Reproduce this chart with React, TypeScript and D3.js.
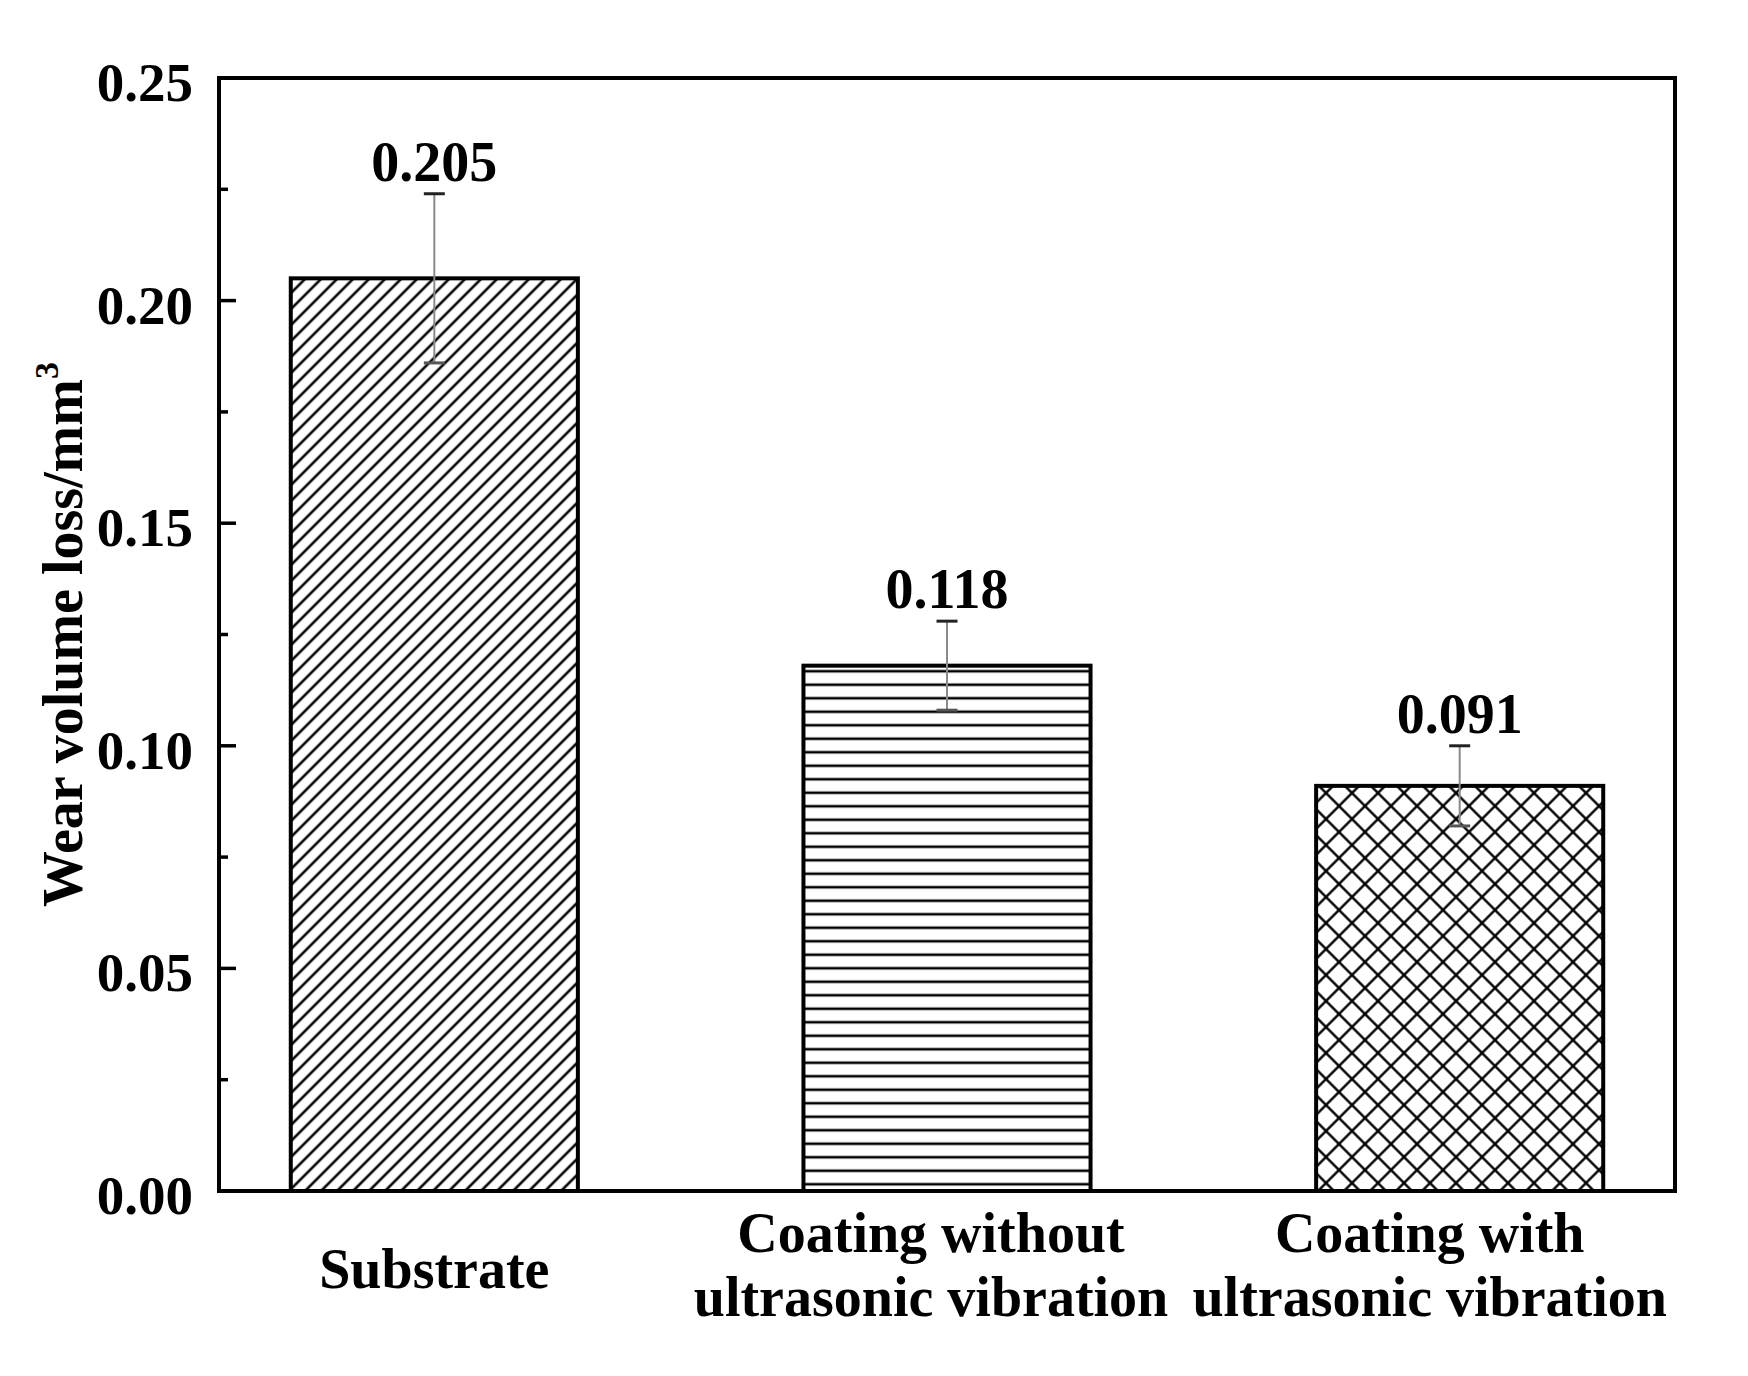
import React from 'react';
import * as d3 from 'd3';

const categoryLines: string[][] = [
  ['Substrate'],
  ['Coating without', 'ultrasonic vibration'],
  ['Coating with', 'ultrasonic vibration'],
];
const categoryKeys = ['substrate', 'without', 'with'];
const values = [0.205, 0.118, 0.091];
const errors = [0.019, 0.010, 0.009];
const valueLabels = ['0.205', '0.118', '0.091'];
const yMajorTicks = [0, 0.05, 0.1, 0.15, 0.2, 0.25];
const yMinorTicks = [0.025, 0.075, 0.125, 0.175, 0.225];
const yLabel = 'Wear volume loss/mm';
const yLabelSup = '3';

const W = 1748;
const H = 1376;
const M = { left: 219, right: 1675, top: 78, bottom: 1191 };
const FONT = '"Liberation Serif", "Times New Roman", serif';
const patternIds = ['patDiag', 'patHoriz', 'patCross'];
const labelNudge = [0, -16, -30];

export default function App() {
  const x = d3
    .scaleBand<string>()
    .domain(categoryKeys)
    .range([M.left, M.right])
    .paddingInner(0.44)
    .paddingOuter(0.14);
  const y = d3.scaleLinear().domain([0, 0.25]).range([M.bottom, M.top]);
  const fmt = d3.format('.2f');
  const bw = x.bandwidth();
  const diagW = 16 / Math.SQRT2;
  const crossW = 26 / Math.SQRT2;

  return (
    <svg
      width={W}
      height={H}
      viewBox={`0 0 ${W} ${H}`}
      style={{ position: 'absolute', left: 0, top: 0, background: '#fff' }}
      fontFamily={FONT}
      fontWeight="bold"
    >
      <defs>
        <pattern id="patDiag" patternUnits="userSpaceOnUse" width={diagW} height={10} patternTransform="rotate(45)">
          <line x1={diagW / 2} y1={-1} x2={diagW / 2} y2={11} stroke="#000" strokeWidth={2.6} />
        </pattern>
        <pattern id="patHoriz" patternUnits="userSpaceOnUse" width={10} height={13.5} y={M.bottom}>
          <line x1={-1} y1={6.75} x2={11} y2={6.75} stroke="#000" strokeWidth={2.6} />
        </pattern>
        <pattern id="patCross" patternUnits="userSpaceOnUse" width={crossW} height={crossW} patternTransform="rotate(45)">
          <line x1={crossW / 2} y1={-1} x2={crossW / 2} y2={crossW + 1} stroke="#000" strokeWidth={2.4} />
          <line x1={-1} y1={crossW / 2} x2={crossW + 1} y2={crossW / 2} stroke="#000" strokeWidth={2.4} />
        </pattern>
      </defs>
      <rect x={0} y={0} width={W} height={H} fill="#fff" />

      {/* bars */}
      {categoryKeys.map((k, i) => {
        const x0 = x(k)!;
        const y0 = y(values[i]);
        const h = y(0) - y0;
        return (
          <g key={k}>
            <rect x={x0} y={y0} width={bw} height={h} fill="#fff" />
            <rect x={x0} y={y0} width={bw} height={h} fill={`url(#${patternIds[i]})`} stroke="#000" strokeWidth={4} />
          </g>
        );
      })}

      {/* error bars */}
      {categoryKeys.map((k, i) => {
        const cx = x(k)! + bw / 2;
        const yt = y(values[i] + errors[i]);
        const yb = y(values[i] - errors[i]);
        return (
          <g key={`e${k}`}>
            <line x1={cx} y1={yt} x2={cx} y2={yb} stroke="#8a8a8a" strokeWidth={2} />
            <line x1={cx - 10.5} y1={yt} x2={cx + 10.5} y2={yt} stroke="#222" strokeWidth={3} />
            <line x1={cx - 10.5} y1={yb} x2={cx + 10.5} y2={yb} stroke="#555" strokeWidth={3} />
            <text x={cx} y={yt - 13} textAnchor="middle" fontSize={56} fill="#000">
              {valueLabels[i]}
            </text>
          </g>
        );
      })}

      {/* frame */}
      <rect
        x={M.left}
        y={M.top}
        width={M.right - M.left}
        height={M.bottom - M.top}
        fill="none"
        stroke="#000"
        strokeWidth={4}
      />

      {/* y ticks */}
      {yMajorTicks.map((t) => (
        <g key={`t${t}`}>
          <line x1={M.left} y1={y(t)} x2={M.left + 17} y2={y(t)} stroke="#000" strokeWidth={3.5} />
          <text x={M.left - 26} y={y(t) + 23} textAnchor="end" fontSize={55} fill="#000">
            {fmt(t)}
          </text>
        </g>
      ))}
      {yMinorTicks.map((t) => (
        <line key={`m${t}`} x1={M.left} y1={y(t)} x2={M.left + 9} y2={y(t)} stroke="#000" strokeWidth={3.5} />
      ))}

      {/* y label */}
      <text
        transform={`translate(82, ${(M.top + M.bottom) / 2}) rotate(-90)`}
        textAnchor="middle"
        fontSize={56}
        fill="#000"
      >
        {yLabel}
        <tspan fontSize={34} dy={-24}>
          {yLabelSup}
        </tspan>
      </text>

      {/* category labels */}
      {categoryKeys.map((k, i) => {
        const cx = x(k)! + bw / 2 + labelNudge[i];
        const lines = categoryLines[i];
        const base = lines.length === 1 ? M.bottom + 97 : M.bottom + 61;
        return (
          <text key={`c${k}`} textAnchor="middle" fontSize={56} fill="#000">
            {lines.map((ln, j) => (
              <tspan key={j} x={cx} y={base + j * 64}>
                {ln}
              </tspan>
            ))}
          </text>
        );
      })}
    </svg>
  );
}
